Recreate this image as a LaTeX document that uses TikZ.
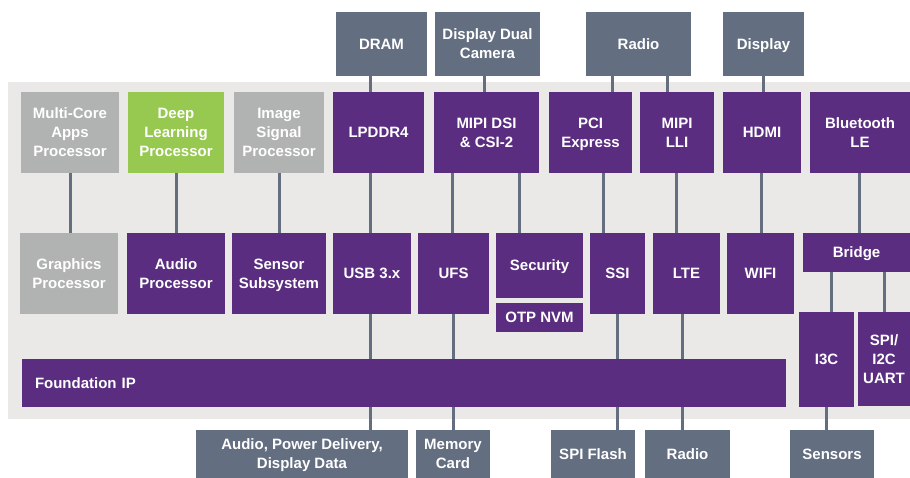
\documentclass[tikz,border=0pt]{standalone}
\usepackage{fontspec}
\setmainfont{Liberation Sans}
\definecolor{purp}{HTML}{5A2D81}
\definecolor{slate}{HTML}{636E80}
\definecolor{lgrey}{HTML}{B1B2B2}
\definecolor{lgreen}{HTML}{97C84F}
\definecolor{bgrey}{HTML}{EBE9E7}
\definecolor{conncol}{HTML}{646E7E}
\tikzset{
  blk/.style={anchor=north west, inner sep=0pt, outer sep=0pt, text=white, align=center,
    font=\fontsize{15}{19}\selectfont\bfseries},
  ipbox/.style={blk, fill=purp},
  extbox/.style={blk, fill=slate},
  greybox/.style={blk, fill=lgrey},
  greenbox/.style={blk, fill=lgreen},
  conn/.style={draw=conncol, line width=3pt}
}
\newcommand{\mystrut}{\rule[-4pt]{0pt}{18.7pt}}
% \bx{style}{name}{x1}{y1}{x2}{y2}{text}
\newcommand{\bx}[7]{\node[#1, minimum width={(#5-#3)*1pt}, minimum height={(#6-#4)*1pt}] (#2) at (#3,#4) {\mystrut#7\mystrut};}
\newcommand{\vc}[3]{\draw[conn] (#1.south -| #3,0) -- (#2.north -| #3,0);}
\begin{document}
\begin{tikzpicture}[x=1pt,y=-1pt]
\useasboundingbox (0,0) rectangle (910,478);
\fill[bgrey] (8,82) rectangle (910,419);
% top external
\bx{extbox}{dram}{336}{12}{427}{76}{DRAM}
\bx{extbox}{ddc}{435}{12}{540}{76}{Display Dual\\Camera}
\bx{extbox}{radioT}{586}{12}{691}{76}{Radio}
\bx{extbox}{displayT}{723}{12}{804}{76}{Display}
% row 1
\bx{greybox}{mca}{21}{92}{119}{173}{Multi-Core\\Apps\\Processor}
\bx{greenbox}{dlp}{128}{92}{224}{173}{Deep\\Learning\\Processor}
\bx{greybox}{isp}{234}{92}{324}{173}{Image\\Signal\\Processor}
\bx{ipbox}{lpddr}{333}{92}{424}{173}{LPDDR4}
\bx{ipbox}{mipidsi}{434}{92}{539}{173}{MIPI DSI\\\& CSI-2}
\bx{ipbox}{pci}{549}{92}{632}{173}{PCI\\Express}
\bx{ipbox}{lli}{640}{92}{714}{173}{MIPI\\LLI}
\bx{ipbox}{hdmi}{723}{92}{801}{173}{HDMI}
\bx{ipbox}{ble}{810}{92}{910}{173}{Bluetooth\\LE}
% row 2
\bx{greybox}{gpu}{20}{233}{118}{314}{Graphics\\Processor}
\bx{ipbox}{audio}{127}{233}{225}{314}{Audio\\Processor}
\bx{ipbox}{sensor}{232}{233}{326}{314}{Sensor\\Subsystem}
\bx{ipbox}{usb}{333}{233}{411}{314}{USB 3.x}
\bx{ipbox}{ufs}{418}{233}{489}{314}{UFS}
\bx{ipbox}{security}{496}{233}{583}{298}{Security}
\bx{ipbox}{otp}{496}{303}{583}{332}{OTP NVM}
\bx{ipbox}{ssi}{590}{233}{645}{314}{SSI}
\bx{ipbox}{lte}{653}{233}{720}{314}{LTE}
\bx{ipbox}{wifi}{727}{233}{794}{314}{WIFI}
\bx{ipbox}{bridge}{803}{233}{910}{272}{Bridge}
\bx{ipbox}{i3c}{799}{312}{854}{407}{I3C}
\bx{ipbox}{spi}{858}{312}{910}{406}{SPI/\\I2C\\UART}
% foundation
\node[ipbox, minimum width=764pt, minimum height=48pt, align=left, text width=738pt, inner xsep=13pt] (found) at (22,359) {\mystrut Foundation IP\mystrut};
% bottom external
\bx{extbox}{apd}{196}{430}{408}{478}{Audio, Power Delivery,\\Display Data}
\bx{extbox}{mem}{416}{430}{490}{478}{Memory\\Card}
\bx{extbox}{spiflash}{551}{430}{635}{478}{SPI Flash}
\bx{extbox}{radioB}{645}{430}{730}{478}{Radio}
\bx{extbox}{sensors}{790}{430}{874}{478}{Sensors}
% connectors
\vc{mca}{gpu}{70}
\vc{dlp}{audio}{176}
\vc{isp}{sensor}{279}
\vc{dram}{lpddr}{370}
\vc{lpddr}{usb}{370}
\vc{usb}{found}{370}
\vc{found}{apd}{370}
\vc{ddc}{mipidsi}{484}
\vc{mipidsi}{ufs}{452}
\vc{ufs}{found}{453}
\vc{found}{mem}{453}
\vc{mipidsi}{security}{519}
\vc{radioT}{pci}{612}
\vc{pci}{ssi}{603}
\vc{ssi}{found}{617}
\vc{found}{spiflash}{617}
\vc{radioT}{lli}{667}
\vc{lli}{lte}{676}
\vc{lte}{found}{682}
\vc{found}{radioB}{682}
\vc{displayT}{hdmi}{763}
\vc{hdmi}{wifi}{761}
\vc{ble}{bridge}{859}
\vc{bridge}{i3c}{831}
\vc{bridge}{spi}{884}
\vc{i3c}{sensors}{826}
\end{tikzpicture}
\end{document}
